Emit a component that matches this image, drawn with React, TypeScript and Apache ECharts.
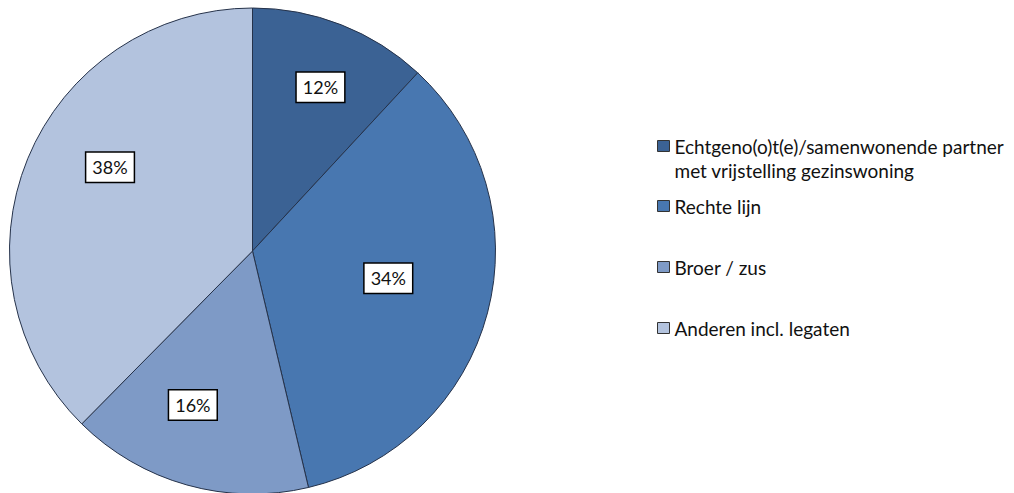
import React, { useEffect, useRef } from "react";
import * as echarts from "echarts";

const categories = [
  "Echtgeno(o)t(e)/samenwonende partner\nmet vrijstelling gezinswoning",
  "Rechte lijn",
  "Broer / zus",
  "Anderen incl. legaten",
];
const values = [11.9, 34.4, 16.1, 37.6];
const colors = ["#3B6294", "#4877B0", "#7E9AC6", "#B3C3DE"];
// label placement: fraction of radius and angular shift (deg) from slice middle
const labelDist = [0.73, 0.57, 0.68, 0.68];
const labelShift = [1.1, -3.4, 5.5, 8.1];
const legendTops = [105, 189, 250, 311];

const CX = 252.5;
const CY = 251;
const R = 243;

export default function App() {
  const ref = useRef<HTMLDivElement>(null);
  useEffect(() => {
    if (!ref.current) return;
    const chart = echarts.init(ref.current, null, { renderer: "svg" });
    const total = values.reduce((a, b) => a + b, 0);
    const mids: number[] = [];
    let acc = 0;
    values.forEach((v) => {
      mids.push(((acc + v / 2) / total) * Math.PI * 2);
      acc += v;
    });
    const font = "Lato, 'Open Sans', sans-serif";
    chart.setOption({
      animation: false,
      legend: categories.map((c, i) => ({
        data: [c],
        orient: "vertical",
        left: 652,
        top: legendTops[i],
        icon: "rect",
        itemWidth: 12,
        itemHeight: 11,
        itemGap: 0,
        selectedMode: false,
        formatter: (name: string) => (i === 0 ? "\n" + name : name),
        itemStyle: { borderColor: "#333", borderWidth: 1 },
        textStyle: {
          fontFamily: font,
          fontSize: 19,
          color: "#111",
          lineHeight: 24,
        },
      })),
      series: [
        {
          type: "pie",
          center: [CX, CY],
          radius: R,
          startAngle: 90,
          clockwise: true,
          data: categories.map((c, i) => ({
            name: c,
            value: values[i],
            itemStyle: { color: colors[i] },
          })),
          itemStyle: { borderColor: "#25324a", borderWidth: 1 },
          emphasis: { disabled: true },
          label: {
            show: true,
            position: "inside",
            formatter: (p: any) => Math.round(p.value) + "%",
            fontFamily: font,
            fontSize: 18,
            color: "#111",
            backgroundColor: "#fff",
            borderColor: "#000",
            borderWidth: 1.5,
            padding: [6, 6, 5, 6],
            align: "center",
            verticalAlign: "middle",
          },
          labelLine: { show: false },
          labelLayout: (params: any) => {
            const i = params.dataIndex;
            const a = mids[i] + (labelShift[i] * Math.PI) / 180;
            return {
              x: CX + labelDist[i] * R * Math.sin(a),
              y: CY - labelDist[i] * R * Math.cos(a),
              align: "center",
              verticalAlign: "middle",
            };
          },
        },
      ],
    });
    return () => chart.dispose();
  }, []);
  return (
    <div
      ref={ref}
      style={{ position: "absolute", left: 0, top: 0, width: 1014, height: 493 }}
    />
  );
}
